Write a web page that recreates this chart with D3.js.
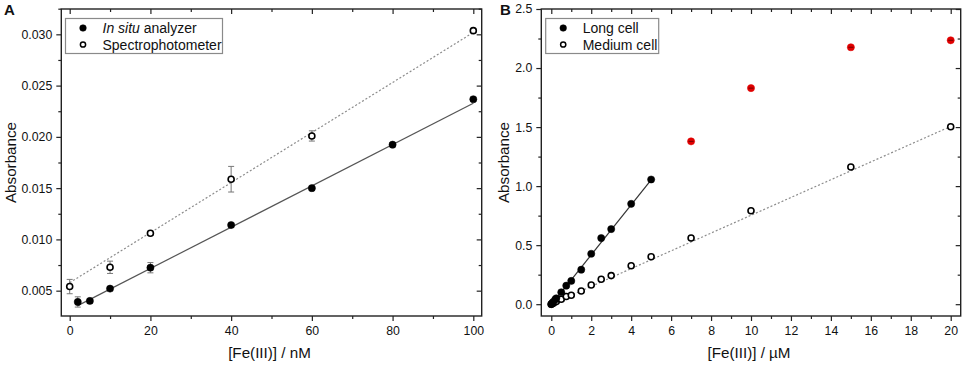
<!DOCTYPE html>
<html>
<head>
<meta charset="utf-8">
<script src="https://cdn.jsdelivr.net/npm/d3@7"></script>
<style>
  body { margin: 0; background: #fff; }
  svg { font-family: "Liberation Sans", Arial, sans-serif; }
</style>
</head>
<body>
<svg id="chart" width="964" height="366"></svg>
<script>
// Panel A data (nM)
var insituX = [2, 5, 10, 20, 40, 60, 80, 100];
var insituY = [0.0039, 0.0040, 0.0052, 0.00724, 0.0114, 0.0150, 0.01924, 0.02367];
var insituErr = [0.0005, 0.0002, 0.0002, 0.0005, 0.0002, 0.0002, 0.0002, 0.0002];
var spectroX = [0, 10, 20, 40, 60, 100];
var spectroY = [0.0054, 0.00728, 0.0106, 0.01587, 0.02009, 0.03036];
var spectroErr = [0.0007, 0.0006, 0.0002, 0.00125, 0.0005, 0.0002];
// linear fits [slope, intercept, xmin, xmax]
var insituFit = [0.0002013, 0.00314, 2, 100];
var spectroFit = [0.000244, 0.00578, 0, 100];

// Panel B data (uM)
var longX = [0, 0.05, 0.1, 0.2, 0.25, 0.5, 0.75, 1, 1.5, 2, 2.5, 3, 4, 5];
var longY = [0, 0.01, 0.02, 0.04, 0.05, 0.101, 0.157, 0.197, 0.292, 0.427, 0.56, 0.636, 0.85, 1.056];
var longOutX = [7, 10, 15, 20];
var longOutY = [1.379, 1.830, 2.176, 2.235];
var mediumX = [0, 0.1, 0.25, 0.5, 0.75, 1, 1.5, 2, 2.5, 3, 4, 5, 7, 10, 15, 20];
var mediumY = [0, 0.008, 0.022, 0.042, 0.065, 0.076, 0.112, 0.163, 0.211, 0.242, 0.326, 0.402, 0.560, 0.791, 1.162, 1.503];
var longFit = [0.2115, -0.005, 0, 5];
var mediumFit = [0.0753, 0, 0, 20];

var xTicksA = [0, 20, 40, 60, 80, 100];
var yTicksA = [0.005, 0.010, 0.015, 0.020, 0.025, 0.030];
var xTicksB = [0, 2, 4, 6, 8, 10, 12, 14, 16, 18, 20];
var yTicksB = [0.0, 0.5, 1.0, 1.5, 2.0, 2.5];

var svg = d3.select("#chart");

function zip(xs, ys, es) {
  return xs.map(function(x, i) { return { x: x, y: ys[i], e: es ? es[i] : 0 }; });
}

function makePanel(opt) {
  var x = d3.scaleLinear().domain(opt.xDomain).range([opt.left, opt.right]);
  var y = d3.scaleLinear().domain(opt.yDomain).range([opt.bottom, opt.top]);
  var g = svg.append("g");

  // axes: outward on bottom/left, inward on top/right
  var minorX = opt.xMinor, minorY = opt.yMinor;
  function axisPair(axisFn, scale, major, minor, pos, labels, fmt) {
    var a = axisFn(scale).tickValues(major).tickSize(5).tickPadding(labels ? 4 : 0)
      .tickFormat(labels ? fmt : "");
    var ag = g.append("g").attr("transform", pos).call(a);
    var m = axisFn(scale).tickValues(minor).tickSize(3).tickFormat("");
    var mg = g.append("g").attr("transform", pos).call(m);
    [ag, mg].forEach(function(s) {
      s.select(".domain").remove();
      s.selectAll("line").attr("stroke", "#222").attr("stroke-width", 1.2);
    });
    ag.selectAll("text").attr("font-size", "12.3px").attr("fill", "#111")
      .attr("font-family", "Liberation Sans, Arial, sans-serif");
    return ag;
  }
  var bx = axisPair(d3.axisBottom, x, opt.xTicks, minorX, "translate(0," + opt.bottom + ")", true, opt.xFmt);
  bx.selectAll("text").attr("dy", "0.71em").attr("y", 10.5);
  axisPair(d3.axisLeft, y, opt.yTicks, minorY, "translate(" + opt.left + ",0)", true, opt.yFmt);
  axisPair(d3.axisBottom, x, opt.xTicks, minorX, "translate(0," + opt.top + ")", false);
  axisPair(d3.axisLeft, y, opt.yTicks, minorY, "translate(" + opt.right + ",0)", false);

  g.append("rect").attr("x", opt.left).attr("y", opt.top)
    .attr("width", opt.right - opt.left).attr("height", opt.bottom - opt.top)
    .attr("fill", "none").attr("stroke", "#222").attr("stroke-width", 1.4);

  // axis titles
  g.append("text").attr("x", (opt.left + opt.right) / 2 - 2).attr("y", 357.5)
    .attr("text-anchor", "middle").attr("font-size", "15.2px").attr("fill", "#111")
    .text(opt.xTitle);
  g.append("text").attr("transform", "translate(" + opt.yTitleX + ",162.5) rotate(-90)")
    .attr("text-anchor", "middle").attr("dy", "0.36em").attr("font-size", "15.2px").attr("fill", "#111")
    .text("Absorbance");
  g.append("text").attr("x", opt.labelX).attr("y", 15).attr("font-size", "15px")
    .attr("font-weight", "bold").attr("fill", "#111").text(opt.label);

  return { g: g, x: x, y: y };
}

function fitLine(p, fit, color, dash, width) {
  var line = d3.line().x(function(d) { return p.x(d); }).y(function(d) { return p.y(fit[0] * d + fit[1]); });
  p.g.append("path").attr("d", line([fit[2], fit[3]]))
    .attr("fill", "none").attr("stroke", color).attr("stroke-width", width)
    .attr("stroke-dasharray", dash);
}

function errorBars(p, data, color) {
  var eg = p.g.append("g").attr("stroke", color).attr("stroke-width", 1);
  data.filter(function(d) { return d.e > 0; }).forEach(function(d) {
    var cx = p.x(d.x), y1 = p.y(d.y - d.e), y2 = p.y(d.y + d.e);
    eg.append("line").attr("x1", cx).attr("x2", cx).attr("y1", y1).attr("y2", y2);
    eg.append("line").attr("x1", cx - 3).attr("x2", cx + 3).attr("y1", y1).attr("y2", y1);
    eg.append("line").attr("x1", cx - 3).attr("x2", cx + 3).attr("y1", y2).attr("y2", y2);
  });
}

function points(p, data, filled, color) {
  p.g.append("g").selectAll("circle").data(data).enter().append("circle")
    .attr("cx", function(d) { return p.x(d.x); })
    .attr("cy", function(d) { return p.y(d.y); })
    .attr("r", filled ? 3.6 : 3)
    .attr("fill", filled ? color : "#fff")
    .attr("stroke", filled ? color : "#000")
    .attr("stroke-width", filled ? 0.5 : 1.6);
}

function legend(p, x0, y0, w, names) {
  p.g.append("rect").attr("x", x0).attr("y", y0).attr("width", w).attr("height", 35)
    .attr("fill", "#fff").attr("stroke", "#8a8a8a").attr("stroke-width", 1.2);
  names.forEach(function(n, i) {
    var cy = y0 + 9.5 + i * 16.5;
    p.g.append("circle").attr("cx", x0 + 17.5).attr("cy", cy).attr("r", i == 0 ? 3.3 : 2.6)
      .attr("fill", i == 0 ? "#000" : "#fff").attr("stroke", "#000").attr("stroke-width", i == 0 ? 0.5 : 1.5);
    var t = p.g.append("text").attr("x", x0 + 37).attr("y", cy + 5).attr("font-size", "14px").attr("fill", "#111");
    n.forEach(function(part) {
      t.append("tspan").attr("font-style", part[1] ? "italic" : "normal").text(part[0]);
    });
  });
}

// ---- Panel A ----
var pA = makePanel({
  left: 61.3, right: 481.7, top: 9, bottom: 316,
  xDomain: [-2.08, 102.08], yDomain: [0.00253, 0.03247],
  xTicks: xTicksA, yTicks: yTicksA,
  xMinor: [10, 30, 50, 70, 90], yMinor: [0.0075, 0.0125, 0.0175, 0.0225, 0.0275, 0.0325],
  xFmt: d3.format("d"), yFmt: d3.format(".3f"),
  xTitle: "[Fe(III)] / nM", yTitleX: 10.5, label: "A", labelX: 4
});
fitLine(pA, spectroFit, "#8c8c8c", "2,2", 1.2);
fitLine(pA, insituFit, "#555", null, 1.2);
var spectroData = zip(spectroX, spectroY, spectroErr);
var insituData = zip(insituX, insituY, insituErr);
errorBars(pA, spectroData, "#777");
errorBars(pA, insituData, "#777");
points(pA, spectroData, false);
points(pA, insituData, true, "#000");
legend(pA, 65.5, 18.5, 157, [[["In situ", true], [" analyzer", false]], [["Spectrophotometer", false]]]);

// ---- Panel B ----
var pB = makePanel({
  left: 541.3, right: 960.7, top: 9, bottom: 316,
  xDomain: [-0.5, 20.5], yDomain: [-0.1, 2.5],
  xTicks: xTicksB, yTicks: yTicksB,
  xMinor: [1, 3, 5, 7, 9, 11, 13, 15, 17, 19], yMinor: [0.25, 0.75, 1.25, 1.75, 2.25],
  xFmt: d3.format("d"), yFmt: d3.format(".1f"),
  xTitle: "[Fe(III)] / \u00b5M", yTitleX: 504, label: "B", labelX: 500
});
fitLine(pB, mediumFit, "#8c8c8c", "2,2", 1.2);
fitLine(pB, longFit, "#333", null, 1.2);
points(pB, zip(mediumX, mediumY), false);
points(pB, zip(longX, longY), true, "#000");
var outData = zip(longOutX, longOutY);
points(pB, outData, true, "#e00000");
pB.g.append("g").selectAll("line").data(outData).enter().append("line")
  .attr("x1", function(d) { return pB.x(d.x) - 2.5; }).attr("x2", function(d) { return pB.x(d.x) + 2.5; })
  .attr("y1", function(d) { return pB.y(d.y); }).attr("y2", function(d) { return pB.y(d.y); })
  .attr("stroke", "#700").attr("stroke-width", 1);
legend(pB, 545.7, 18.5, 113, [[["Long cell", false]], [["Medium cell", false]]]);
</script>
</body>
</html>
